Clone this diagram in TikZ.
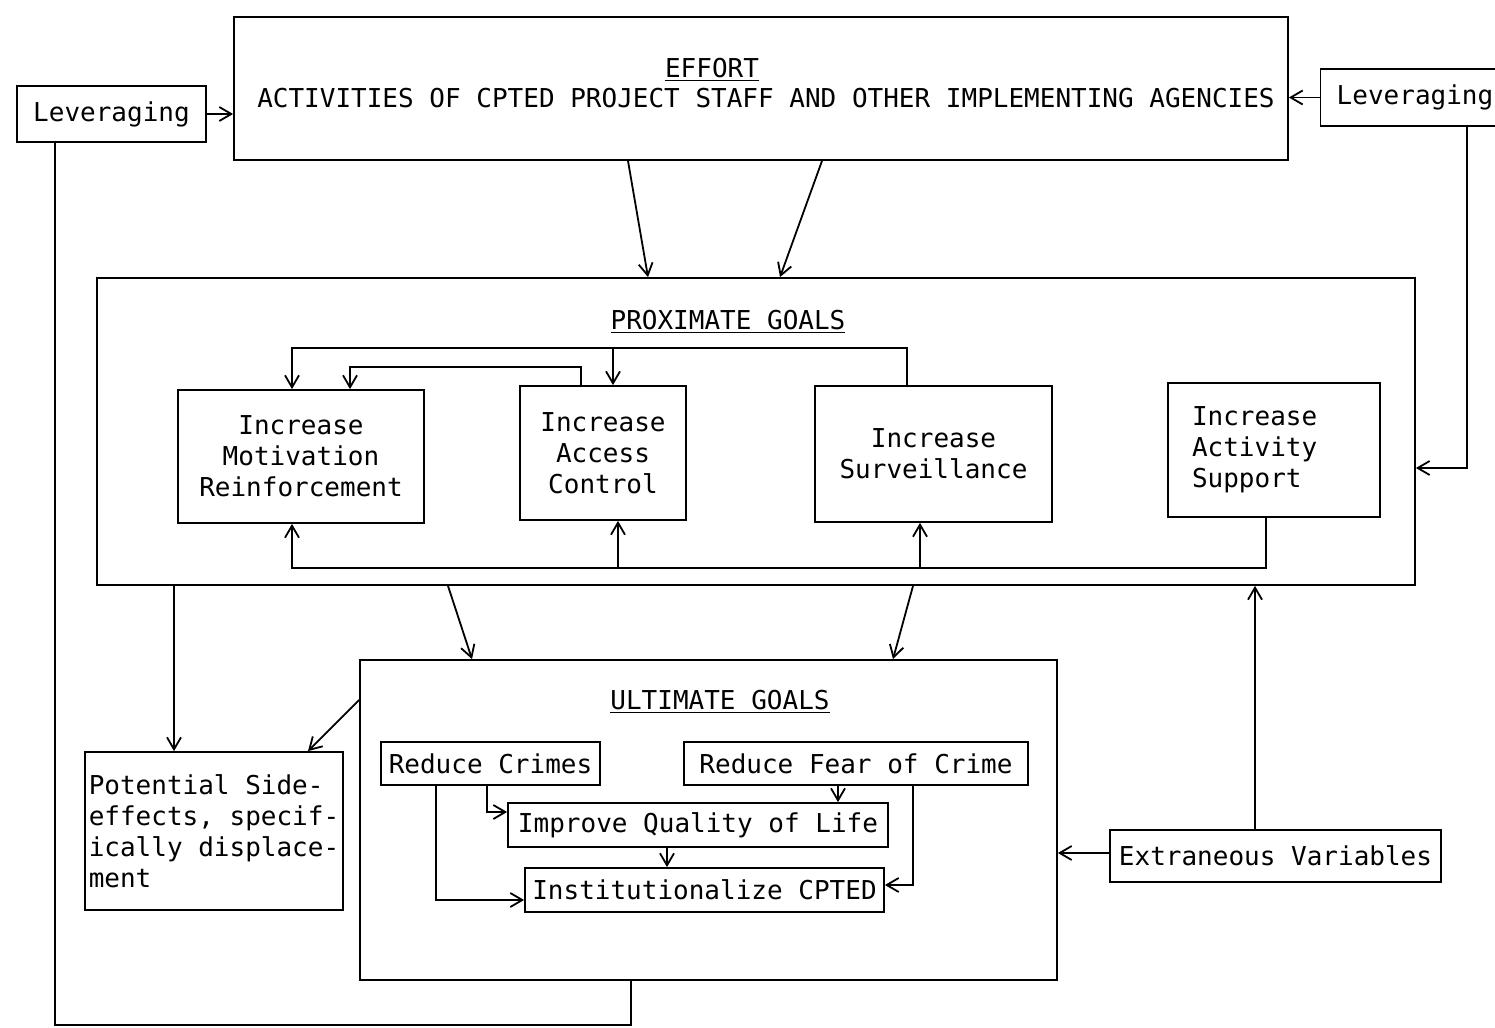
\documentclass[tikz,border=0pt]{standalone}
\usepackage{fontspec}
\setmainfont{DejaVu Sans Mono}
\usetikzlibrary{arrows.meta}

\begin{document}
\begin{tikzpicture}[x=0.5pt,y=-0.5pt,line width=.9pt,
  every node/.style={font=\fontsize{13}{15.5}\selectfont},
  box/.style={draw,line width=.9pt,inner sep=2pt,align=center},
  arr/.style={-{Straight Barb[length=6pt,width=7pt]}}]
\useasboundingbox (0,0) rectangle (1495,1028);
\node[box,minimum width=94.5pt,minimum height=28pt] (lev1) at (111.5,114) {Leveraging};
\node[box,minimum width=527pt,minimum height=71.5pt] (effort) at (761,88.5) {};
\node (efforttitle) at (712,70) {\underline{EFFORT}};
\node (effortsub) at (766,98) {ACTIVITIES OF CPTED PROJECT STAFF AND OTHER IMPLEMENTING AGENCIES};
\node[box,minimum width=94.5pt,minimum height=28.5pt] (lev2) at (1415,97.5) {Leveraging};
\node[box,minimum width=659pt,minimum height=153.5pt] (prox) at (756,431.5) {};
\node (proxtitle) at (728,322) {\underline{PROXIMATE GOALS}};
\node[box,minimum width=123pt,minimum height=66.5pt] (mot) at (301,456.5) {Increase\\Motivation\\Reinforcement};
\node[box,minimum width=83pt,minimum height=67pt] (acc) at (603,453) {Increase\\Access\\Control};
\node[box,minimum width=118.5pt,minimum height=68pt] (sur) at (933.5,454) {Increase\\Surveillance};
\node[box,align=left,inner xsep=12pt,text width=82pt,minimum height=67pt] (act) at (1274,450) {Increase\\Activity\\Support};
\node[box,minimum width=348.5pt,minimum height=160pt] (ult) at (708.5,820) {};
\node (ulttitle) at (720,702) {\underline{ULTIMATE GOALS}};
\node[box,align=left,minimum width=129pt,minimum height=79pt] (side) at (214,831) {Potential Side-\\effects, specif-\\ically displace-\\ment};
\node[box,minimum width=109.5pt,minimum height=21.5pt] (rc) at (490.5,763.5) {Reduce Crimes};
\node[box,minimum width=172pt,minimum height=21.5pt] (rf) at (856,763.5) {Reduce Fear of Crime};
\node[box,minimum width=190pt,minimum height=22pt] (iq) at (698,825) {Improve Quality of Life};
\node[box,minimum width=179.5pt,minimum height=22pt] (ic) at (704.5,890) {Institutionalize CPTED};
\node[box,minimum width=165.5pt,minimum height=26pt] (ev) at (1275.5,856) {Extraneous Variables};
\coordinate (topjct) at (613,348);
\coordinate (botjct1) at (618,568);
\coordinate (botjct2) at (920,568);
\draw[arr] (lev1.east) -- (lev1.east -| effort.west);
\draw[arr] (lev2.west) -- (lev2.west -| effort.east);
\draw[arr] (effort.south -| 628,0) -- (prox.north -| 648,0);
\draw[arr] (effort.south -| 822,0) -- (prox.north -| 780,0);
\draw[arr] (lev2.south -| 1467,0) |- (prox.east |- 0,468);
\draw[arr] (sur.north -| 907,0) |- (topjct) -| (mot.north -| 292,0);
\draw[arr] (topjct) -- (acc.north -| 613,0);
\draw[arr] (acc.north -| 581,0) |- (350,367) -- (mot.north -| 350,0);
\draw[arr] (act.south -| 1266,0) |- (292,568) -- (mot.south -| 292,0);
\draw[arr] (botjct1) -- (acc.south -| 618,0);
\draw[arr] (botjct2) -- (sur.south -| 920,0);
\draw[arr] (prox.south -| 448,0) -- (ult.north -| 472,0);
\draw[arr] (prox.south -| 913,0) -- (ult.north -| 893,0);
\draw[arr] (prox.south -| 174,0) -- (side.north -| 174,0);
\draw[arr] (ult.west |- 0,700) -- (side.north -| 308,0);
\draw[arr] (rc.south -| 487,0) |- (iq.west |- 0,812);
\draw[arr] (rc.south -| 436,0) |- (ic.west |- 0,900);
\draw[arr] (rf.south -| 838,0) -- (iq.north -| 838,0);
\draw[arr] (rf.south -| 913,0) |- (ic.east |- 0,885);
\draw[arr] (iq.south -| 667,0) -- (ic.north -| 667,0);
\draw[arr] (ev.west |- 0,853) -- (ult.east |- 0,853);
\draw[arr] (ev.north -| 1255,0) -- (prox.south -| 1255,0);
\draw (ult.south -| 631,0) -- (631,1025) -| (lev1.south -| 55,0);
\end{tikzpicture}
\end{document}
